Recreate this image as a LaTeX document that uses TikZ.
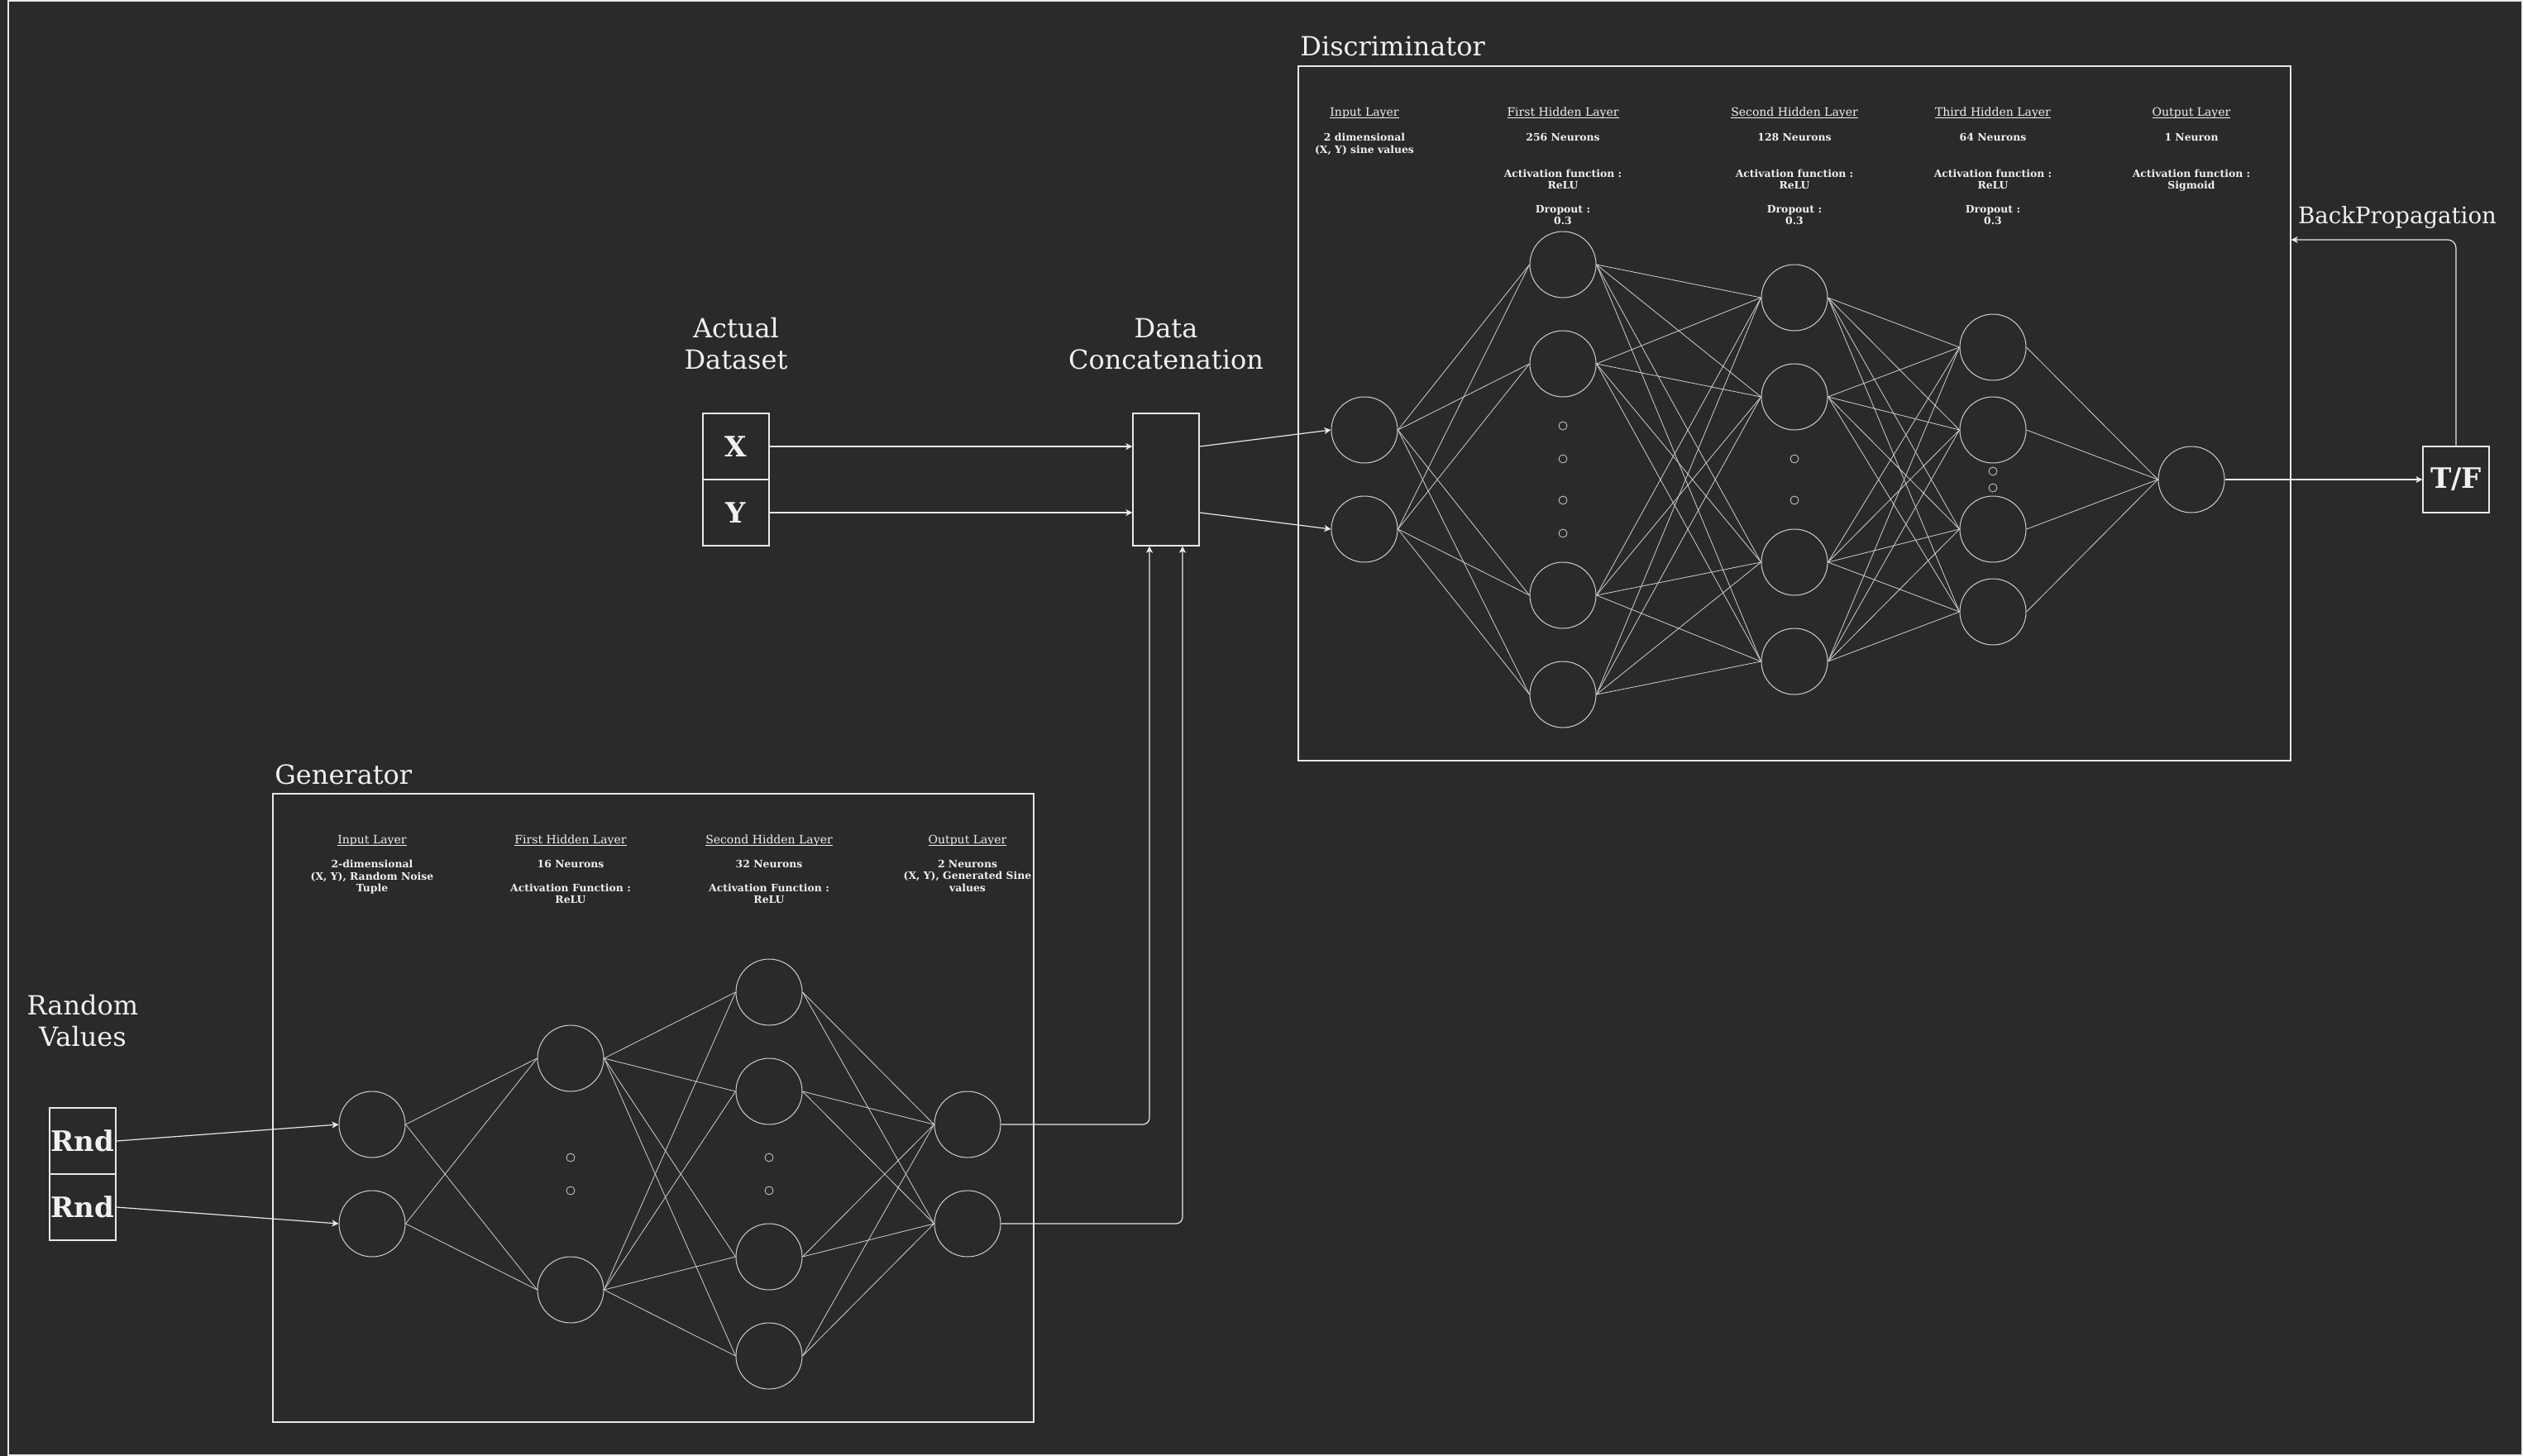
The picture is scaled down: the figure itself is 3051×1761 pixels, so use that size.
\documentclass[tikz,border=0pt]{standalone}
\usepackage{fontspec}
\setmainfont{DejaVu Serif}
\usetikzlibrary{arrows.meta}
\definecolor{bgcol}{HTML}{2A2A2A}
\definecolor{linecol}{HTML}{E8E8E8}
\definecolor{nrncol}{HTML}{CFCFCF}
\definecolor{txtcol}{HTML}{F0F0F0}
\newcommand{\bigtxt}{\fontsize{16}{19}\selectfont}
\newcommand{\bptxt}{\fontsize{13.8}{16}\selectfont}
\newcommand{\boxtxt}{\fontsize{17}{19}\selectfont\bfseries}
\newcommand{\laytxt}{\fontsize{7}{7.15}\selectfont}
\newcommand{\infotxt}{\fontsize{6.2}{7.15}\selectfont\bfseries}
\newcommand{\layname}[1]{\underline{\smash{#1}}}
\tikzset{
	neuron/.style={circle, draw=nrncol, line width=.5pt, minimum size=40pt, inner sep=0pt},
	ndot/.style={circle, draw=nrncol, line width=.4pt, minimum size=5pt, inner sep=0pt},
	databox/.style={draw=linecol, line width=.6pt, minimum size=40pt, inner sep=0pt, text=txtcol, font=\boxtxt},
	framebox/.style={draw=linecol, line width=.6pt, inner sep=0pt},
	bigtitle/.style={text=txtcol, font=\bigtxt, align=center, inner sep=0pt},
	laytitle/.style={text=txtcol, font=\laytxt, inner sep=0pt, anchor=base},
	layinfo/.style={text=txtcol, font=\infotxt, align=center, inner sep=0pt, anchor=north},
	wire/.style={draw=nrncol, line width=.4pt},
	flow/.style={draw=linecol, line width=.6pt, -{Stealth[length=4pt,width=4pt,inset=1pt]}},
}
\begin{document}
\begin{tikzpicture}[x=.5pt,y=-.5pt]
	\fill[bgcol] (0,0) rectangle (3051,1761);
	\useasboundingbox (0,0) rectangle (3051,1761);
	\draw[linecol, line width=.6pt] (10,1) rectangle (3050,1760);

	% frames and titles
	\node[framebox, minimum width=600pt, minimum height=420pt] (dbox) at (2170,500) {};
	\node[framebox, minimum width=460pt, minimum height=380pt] (gbox) at (790,1340) {};
	\node[bigtitle, anchor=base west] (dlbl) at (1572,67) {Discriminator};
	\node[bigtitle, anchor=base west] (glbl) at (332,948) {Generator};
	\node[bigtitle] (reallbl) at (890,416) {Actual\\Dataset};
	\node[bigtitle] (catlbl) at (1410,416) {Data\\Concatenation};
	\node[bigtitle] (rndlbl) at (100,1235) {Random\\Values};
	\node[text=txtcol, font=\bptxt, inner sep=0pt, anchor=base] (bplbl) at (2899,270) {BackPropagation};

	% data boxes
	\node[databox] (dx) at (890,540) {X};
	\node[databox] (dy) at (890,620) {Y};
	\node[databox, minimum height=80pt] (cat) at (1410,580) {};
	\node[databox] (rnd1) at (100,1380) {Rnd};
	\node[databox] (rnd2) at (100,1460) {Rnd};
	\node[databox] (tf) at (2970,580) {T/F};

	% discriminator layer texts
	\node[laytitle] (dinT) at (1650,140) {\layname{Input Layer}};
	\node[layinfo] (dinI) at (1650,161) {2 dimensional\\(X, Y) sine values};
	\node[laytitle] (dh1T) at (1890,140) {\layname{First Hidden Layer}};
	\node[layinfo] (dh1I) at (1890,161) {256 Neurons\\[14.6pt]Activation function :\\ReLU\\[7.2pt]Dropout :\\0.3};
	\node[laytitle] (dh2T) at (2170,140) {\layname{Second Hidden Layer}};
	\node[layinfo] (dh2I) at (2170,161) {128 Neurons\\[14.6pt]Activation function :\\ReLU\\[7.2pt]Dropout :\\0.3};
	\node[laytitle] (dh3T) at (2410,140) {\layname{Third Hidden Layer}};
	\node[layinfo] (dh3I) at (2410,161) {64 Neurons\\[14.6pt]Activation function :\\ReLU\\[7.2pt]Dropout :\\0.3};
	\node[laytitle] (doutT) at (2650,140) {\layname{Output Layer}};
	\node[layinfo] (doutI) at (2650,161) {1 Neuron\\[14.6pt]Activation function :\\Sigmoid};

	% generator layer texts
	\node[laytitle] (ginT) at (450,1020) {\layname{Input Layer}};
	\node[layinfo] (ginI) at (450,1040) {2-dimensional\\(X, Y), Random Noise\\Tuple};
	\node[laytitle] (gh1T) at (690,1020) {\layname{First Hidden Layer}};
	\node[layinfo] (gh1I) at (690,1040) {16 Neurons\\[7.2pt]Activation Function :\\ReLU};
	\node[laytitle] (gh2T) at (930,1020) {\layname{Second Hidden Layer}};
	\node[layinfo] (gh2I) at (930,1040) {32 Neurons\\[7.2pt]Activation Function :\\ReLU};
	\node[laytitle] (goutT) at (1170,1020) {\layname{Output Layer}};
	\node[layinfo] (goutI) at (1170,1040) {2 Neurons\\(X, Y), Generated Sine\\values};

	% discriminator neurons
	\foreach \y [count=\i] in {520,640} \node[neuron] (din\i) at (1650,\y) {};
	\foreach \y [count=\i] in {320,440,720,840} \node[neuron] (dha\i) at (1890,\y) {};
	\foreach \y [count=\i] in {360,480,680,800} \node[neuron] (dhb\i) at (2170,\y) {};
	\foreach \y [count=\i] in {420,520,640,740} \node[neuron] (dhc\i) at (2410,\y) {};
	\node[neuron] (dout) at (2650,580) {};
	\foreach \y [count=\i] in {515,555,605,645} \node[ndot] (dadot\i) at (1890,\y) {};
	\foreach \y [count=\i] in {555,605} \node[ndot] (dbdot\i) at (2170,\y) {};
	\foreach \y [count=\i] in {570,590} \node[ndot] (dcdot\i) at (2410,\y) {};

	% generator neurons
	\foreach \y [count=\i] in {1360,1480} \node[neuron] (gin\i) at (450,\y) {};
	\foreach \y [count=\i] in {1280,1560} \node[neuron] (gha\i) at (690,\y) {};
	\foreach \y [count=\i] in {1200,1320,1520,1640} \node[neuron] (ghb\i) at (930,\y) {};
	\foreach \y [count=\i] in {1360,1480} \node[neuron] (gout\i) at (1170,\y) {};
	\foreach \y [count=\i] in {1400,1440} \node[ndot] (gadot\i) at (690,\y) {};
	\foreach \y [count=\i] in {1400,1440} \node[ndot] (gbdot\i) at (930,\y) {};

	% weights
	\foreach \i in {1,2} \foreach \j in {1,...,4} \draw[wire] (din\i.east) -- (dha\j.west);
	\foreach \i in {1,...,4} \foreach \j in {1,...,4} \draw[wire] (dha\i.east) -- (dhb\j.west);
	\foreach \i in {1,...,4} \foreach \j in {1,...,4} \draw[wire] (dhb\i.east) -- (dhc\j.west);
	\foreach \i in {1,...,4} \draw[wire] (dhc\i.east) -- (dout.west);
	\foreach \i in {1,2} \foreach \j in {1,2} \draw[wire] (gin\i.east) -- (gha\j.west);
	\foreach \i in {1,2} \foreach \j in {1,...,4} \draw[wire] (gha\i.east) -- (ghb\j.west);
	\foreach \i in {1,...,4} \foreach \j in {1,2} \draw[wire] (ghb\i.east) -- (gout\j.west);

	% data flow
	\draw[flow] (dx.east) -- (dx.east -| cat.west);
	\draw[flow] (dy.east) -- (dy.east -| cat.west);
	\draw[flow] (cat.east |- dx.east) -- (din1.west);
	\draw[flow] (cat.east |- dy.east) -- (din2.west);
	\draw[flow] (rnd1.east) -- (gin1.west);
	\draw[flow] (rnd2.east) -- (gin2.west);
	\draw[flow, rounded corners=4pt] (gout1.east) -| ([xshift=-10pt]cat.south);
	\draw[flow, rounded corners=4pt] (gout2.east) -| ([xshift=10pt]cat.south);
	\draw[flow] (dout.east) -- (tf.west);
	\coordinate (bpin) at (dbox.east |- 0,290);
	\draw[flow, rounded corners=5pt] (tf.north) |- (bpin);
\end{tikzpicture}
\end{document}
